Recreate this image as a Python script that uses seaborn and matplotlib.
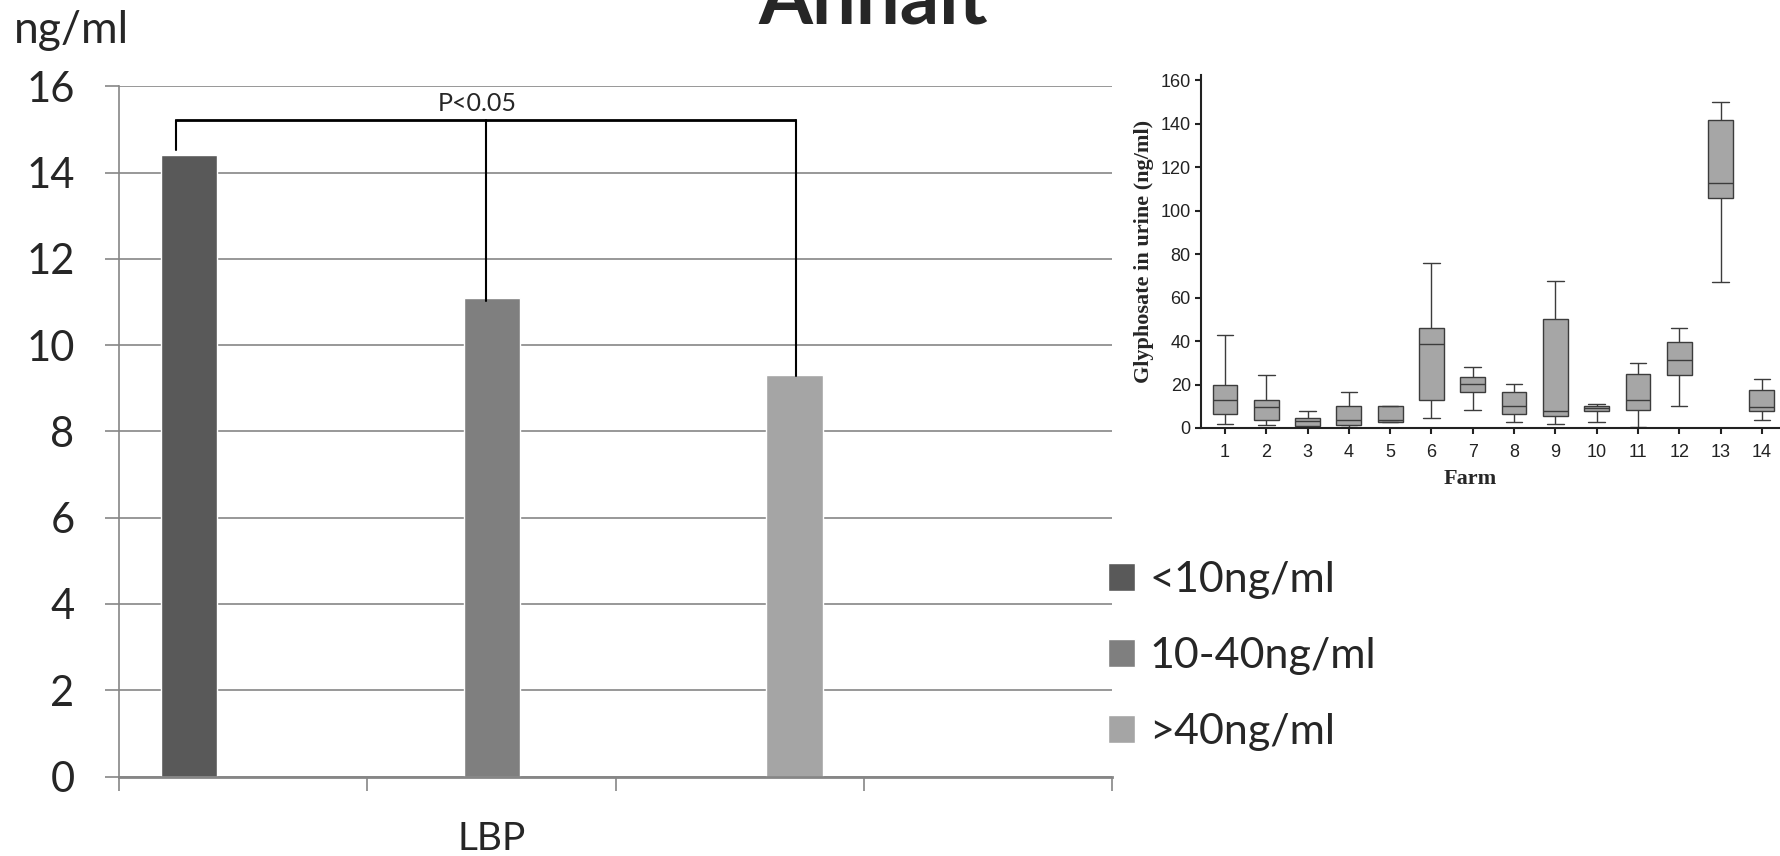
import numpy as np
import pandas as pd
import matplotlib
matplotlib.use('Agg')
import matplotlib.pyplot as plt
import seaborn as sns

# bar chart (LBP by urine glyphosate group)
groups = ['<10ng/ml', '10-40ng/ml', '>40ng/ml']
lbp = [14.4, 11.1, 9.3]
bar_colors = ['#595959', '#7f7f7f', '#a5a5a5']
y_ticks = [0, 2, 4, 6, 8, 10, 12, 14, 16]

# inset boxplot: glyphosate in urine per farm
farms = [str(i) for i in range(1, 15)]
whisk_lo = [2.0, 1.2, 0.3, 0.3, 2.9, 4.6, 8.4, 2.9, 2.0, 2.9, 0.3, 10.3, 67.2, 3.8]
q1 = [6.6, 3.8, 0.8, 1.2, 2.9, 12.7, 16.6, 6.6, 5.4, 7.7, 8.4, 24.2, 106.1, 7.7]
median = [12.7, 9.5, 3.4, 3.8, 3.8, 38.5, 20.4, 10.3, 7.7, 9.2, 12.7, 31.3, 112.9, 9.5]
q3 = [19.9, 12.7, 4.8, 10.1, 10.1, 45.9, 23.3, 16.6, 50.0, 10.1, 25.0, 39.4, 142.0, 17.5]
whisk_hi = [42.8, 24.2, 7.7, 16.6, 10.1, 76.1, 28.1, 20.1, 67.9, 11.0, 29.8, 45.9, 150.0, 22.5]

sns.set_style('white')
plt.rcParams['font.family'] = ['Lato', 'DejaVu Sans']

W, H = 1780, 856
fig = plt.figure(figsize=(W / 100, H / 100), dpi=100)

def px_box(left, top, right, bottom):
    return [left / W, 1 - bottom / H, (right - left) / W, (bottom - top) / H]

# ---- main bar chart ----
ax = fig.add_axes(px_box(119, 86.3, 1112, 776.5))
df = pd.DataFrame({'marker': ['LBP'] * 3, 'group': groups, 'value': lbp})
sns.barplot(data=df, x='marker', y='value', hue='group', hue_order=groups,
            palette=bar_colors, width=0.8, gap=0.814, errorbar=None,
            saturation=1, ax=ax)
handles, labels = ax.get_legend_handles_labels()
ax.get_legend().remove()

ax.set_ylim(0, 16)
xlim = (-0.3285, 0.5465)
ax.set_xlim(*xlim)
ax.set_yticks(y_ticks)
ax.set_xticks(np.linspace(xlim[0], xlim[1], 5))
ax.set_xticklabels([])
ax.tick_params(axis='y', left=True, labelsize=30, length=10, width=1.2,
               color='#868686', pad=22, direction='out')
ax.tick_params(axis='x', bottom=True, length=10, width=1.2, color='#868686',
               direction='out')
ax.yaxis.grid(True, color='#868686', lw=1.2)
ax.set_axisbelow(True)
for s in ['top', 'right']:
    ax.spines[s].set_visible(False)
ax.spines['left'].set_color('#868686')
ax.spines['left'].set_linewidth(1.2)
ax.spines['bottom'].set_color('#868686')
ax.spines['bottom'].set_linewidth(2)
ax.set_xlabel('')
ax.set_ylabel('')
ax.annotate('LBP', xy=(0, 0), xycoords=('data', 'axes fraction'), xytext=(0, -53),
            textcoords='offset points', ha='center', va='baseline', fontsize=28)

# significance bracket
centers = sorted(p.get_x() + p.get_width() / 2 for p in ax.patches if p.get_height() > 0)
bx = [centers[0] - 0.0116, centers[1] - 0.0053, centers[2] + 0.001]
bracket_y = 15.22
drop_to = [lbp[0] + 0.13, lbp[1] - 0.07, lbp[2] - 0.02]
ax.plot([bx[0], bx[2]], [bracket_y, bracket_y], color='black', lw=2, solid_capstyle='butt')
for xv, yv in zip(bx, drop_to):
    ax.plot([xv, xv], [bracket_y, yv], color='black', lw=1.5)
ax.text(centers[1] - 0.013, 15.42, 'P<0.05', ha='center', va='baseline', fontsize=18)

fig.legend(handles, labels, loc='center left', bbox_to_anchor=(1108 / W, 1 - 656 / H),
           frameon=False, fontsize=31, handlelength=0.63, handleheight=0.63,
           handletextpad=0.33, labelspacing=0.88, borderpad=0, borderaxespad=0)

fig.text(14 / W, 1 - 43 / H, 'ng/ml', ha='left', va='baseline', fontsize=32)
fig.text(873 / W, 1 - 23 / H, 'Anhalt', ha='center', va='baseline', fontsize=56,
         fontweight='bold')

# ---- inset boxplot ----
rows = []
for f, a, b, c, d, e in zip(farms, whisk_lo, q1, median, q3, whisk_hi):
    for v in (a, b, c, d, e):
        rows.append({'farm': f, 'value': v})
box_df = pd.DataFrame(rows)

ax2 = fig.add_axes(px_box(1201, 75, W, 428))
sns.boxplot(data=box_df, x='farm', y='value', order=farms, whis=(0, 100),
            width=0.6, color='#a6a6a6', linecolor='#3c3c3c', linewidth=1,
            saturation=1, showfliers=False, capwidths=0.4, ax=ax2)
ax2.set_xlim(-0.58, 13.44)
ax2.set_ylim(0, 162.5)
ax2.set_yticks(range(0, 161, 20))
for s in ['top', 'right']:
    ax2.spines[s].set_visible(False)
for s in ['left', 'bottom']:
    ax2.spines[s].set_color('#222222')
    ax2.spines[s].set_linewidth(1.5)
ax2.tick_params(axis='both', left=True, bottom=True, length=4.3, width=1.5,
                color='#222222', direction='out', labelsize=13)
ax2.tick_params(axis='y', pad=3)
ax2.tick_params(axis='x', pad=7)
for lab in ax2.get_xticklabels() + ax2.get_yticklabels():
    lab.set_fontfamily('Liberation Sans')
    lab.set_color('#222222')
ax2.set_ylabel('Glyphosate in urine (ng/ml)', fontfamily='Liberation Serif',
               fontweight='bold', fontsize=16)
ax2.yaxis.set_label_coords(-0.081, 0.5)
ax2.set_xlabel('Farm', fontfamily='Liberation Serif', fontweight='bold', fontsize=16)
ax2.xaxis.set_label_coords(0.4646, -0.115)
ax2.patch.set_alpha(0)

fig.savefig('out.png', dpi=100)
